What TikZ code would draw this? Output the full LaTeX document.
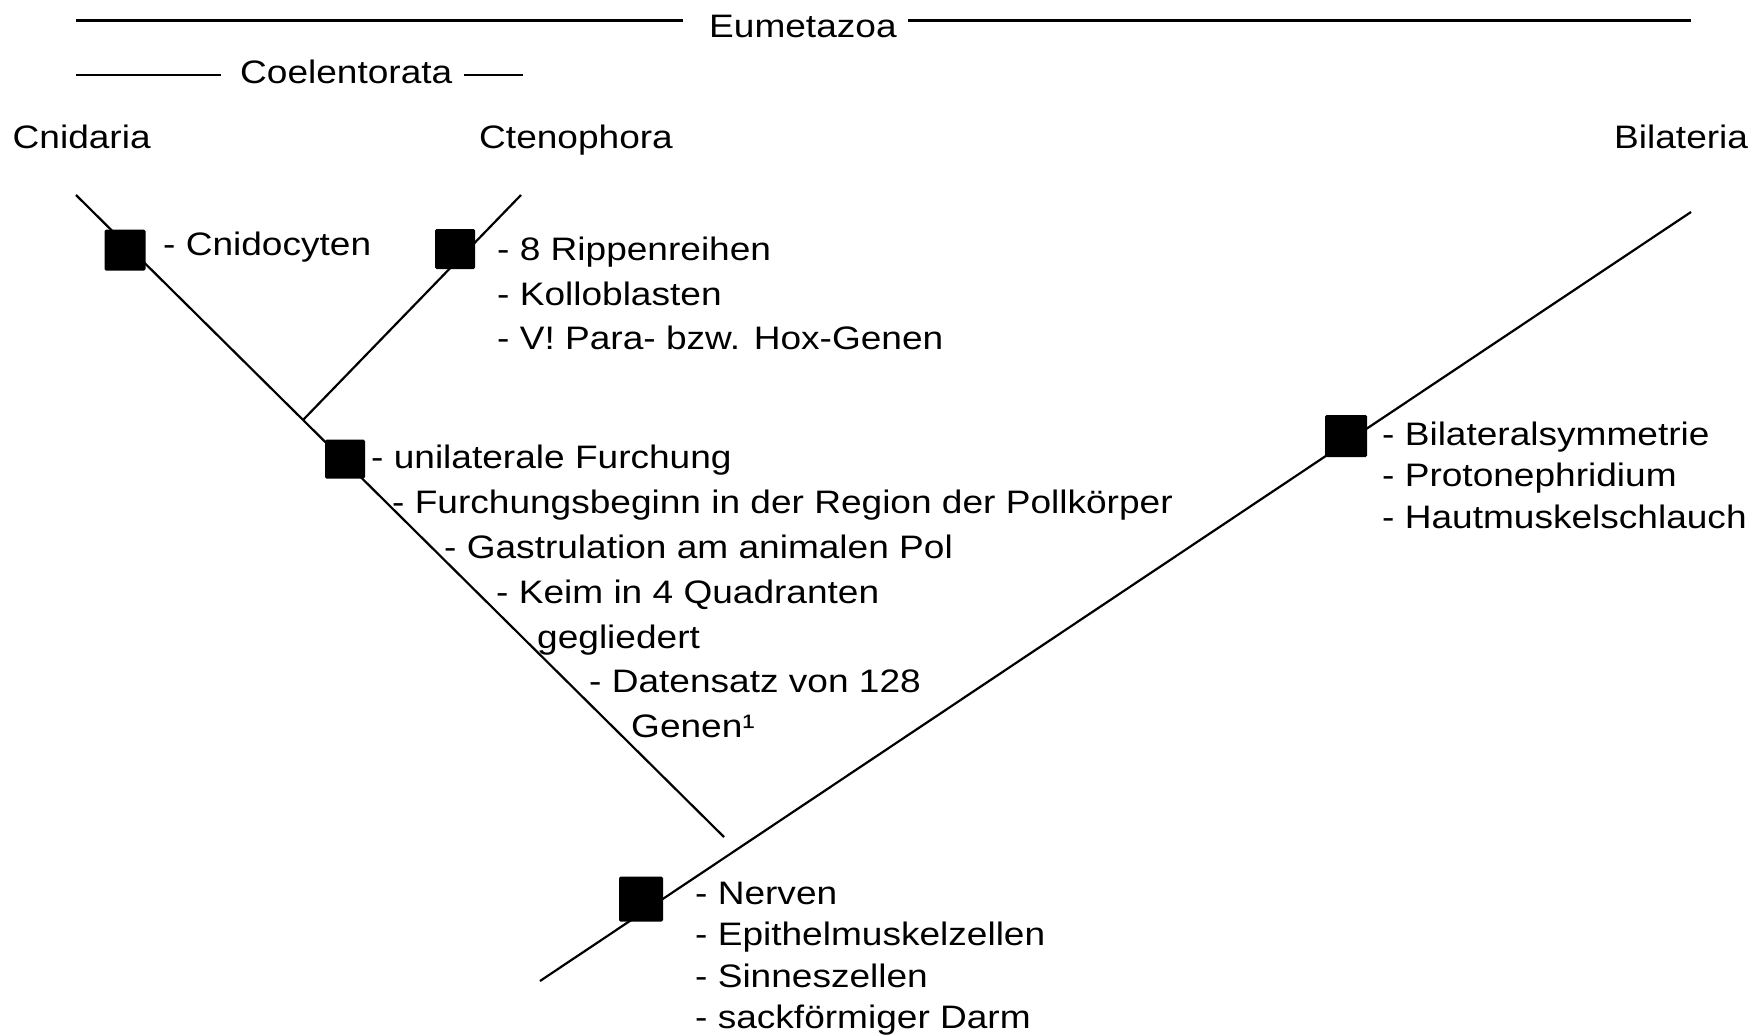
\documentclass[tikz,border=0pt]{standalone}
\usepackage{fontspec}
\setmainfont{Liberation Sans}[FakeStretch=1.14]
\begin{document}
\begin{tikzpicture}[x=1pt,y=-1pt,
  lbl/.style={anchor=base west, inner sep=0pt, font=\fontsize{32.5}{41.5}\selectfont},
  trait/.style={fill=black, draw=none, minimum width=41pt, minimum height=41pt,
                inner sep=0pt, rounded corners=1.5pt},
  branch/.style={line width=2.2pt},
  bar/.style={line width=3pt}]
\useasboundingbox (0,0) rectangle (1759,1036);

% --- group bars on top
\node[lbl] (eumet) at (709,37) {Eumetazoa};
\coordinate (eA) at (76,20);  \coordinate (eB) at (683,20);
\coordinate (eC) at (908,20); \coordinate (eD) at (1691,20);
\draw[bar] (eA) -- (eB);
\draw[bar] (eC) -- (eD);

\node[lbl] (coel) at (240,83) {Coelentorata};
\coordinate (cA) at (76,75);  \coordinate (cB) at (221,75);
\coordinate (cC) at (464,75); \coordinate (cD) at (523,75);
\draw[branch] (cA) -- (cB);
\draw[branch] (cC) -- (cD);

% --- taxa
\node[lbl] (cnid) at (12.5,148) {Cnidaria};
\node[lbl] (cten) at (479,148) {Ctenophora};
\node[lbl] (bila) at (1614,148) {Bilateria};

% --- branches
\coordinate (cnTop) at (76,195);
\coordinate (ctTop) at (521,195);
\coordinate (join)  at (303,420);
\coordinate (cnEnd) at (724,837);
\coordinate (biTop) at (1691,212);
\coordinate (biEnd) at (540,981);
\draw[branch] (cnTop) -- (cnEnd);
\draw[branch] (ctTop) -- (join);
\draw[branch] (biTop) -- (biEnd);

% --- apomorphy boxes
\node[trait] (sqCnid) at (125,250) {};
\node[trait, minimum width=40pt, minimum height=40pt] (sqCten) at (455,249) {};
\node[trait, minimum width=40pt, minimum height=39pt] (sqCoel) at (345,459) {};
\node[trait, minimum width=42pt, minimum height=42pt] (sqBila) at (1346,436) {};
\node[trait, minimum width=44pt, minimum height=45pt] (sqEume) at (641,899) {};

% --- character lists
\node[lbl] (tCnid) at (163,255) {- Cnidocyten};

\node[lbl] (tCt1) at (497,260)   {- 8 Rippenreihen};
\node[lbl] (tCt2) at (497,305)   {- Kolloblasten};
\node[lbl] (tCt3) at (497,349.5) {- V! Para- bzw. Hox-Genen};

\node[lbl] (tCo1) at (371,468)   {- unilaterale Furchung};
\node[lbl] (tCo2) at (392,513)   {- Furchungsbeginn in der Region der Pollkörper};
\node[lbl] (tCo3) at (444,558)   {- Gastrulation am animalen Pol};
\node[lbl] (tCo4) at (496,603)   {- Keim in 4 Quadranten};
\node[lbl] (tCo5) at (537,648)   {gegliedert};
\node[lbl] (tCo6) at (589,692.5) {- Datensatz von 128};
\node[lbl] (tCo7) at (631,737)   {Genen¹};

\node[lbl] (tBi1) at (1382,445)   {- Bilateralsymmetrie};
\node[lbl] (tBi2) at (1382,486.5) {- Protonephridium};
\node[lbl] (tBi3) at (1382,528)   {- Hautmuskelschlauch};

\node[lbl] (tEu1) at (695,904)    {- Nerven};
\node[lbl] (tEu2) at (695,945.5)  {- Epithelmuskelzellen};
\node[lbl] (tEu3) at (695,987)    {- Sinneszellen};
\node[lbl] (tEu4) at (695,1028.5) {- sackförmiger Darm};
\end{tikzpicture}
\end{document}
